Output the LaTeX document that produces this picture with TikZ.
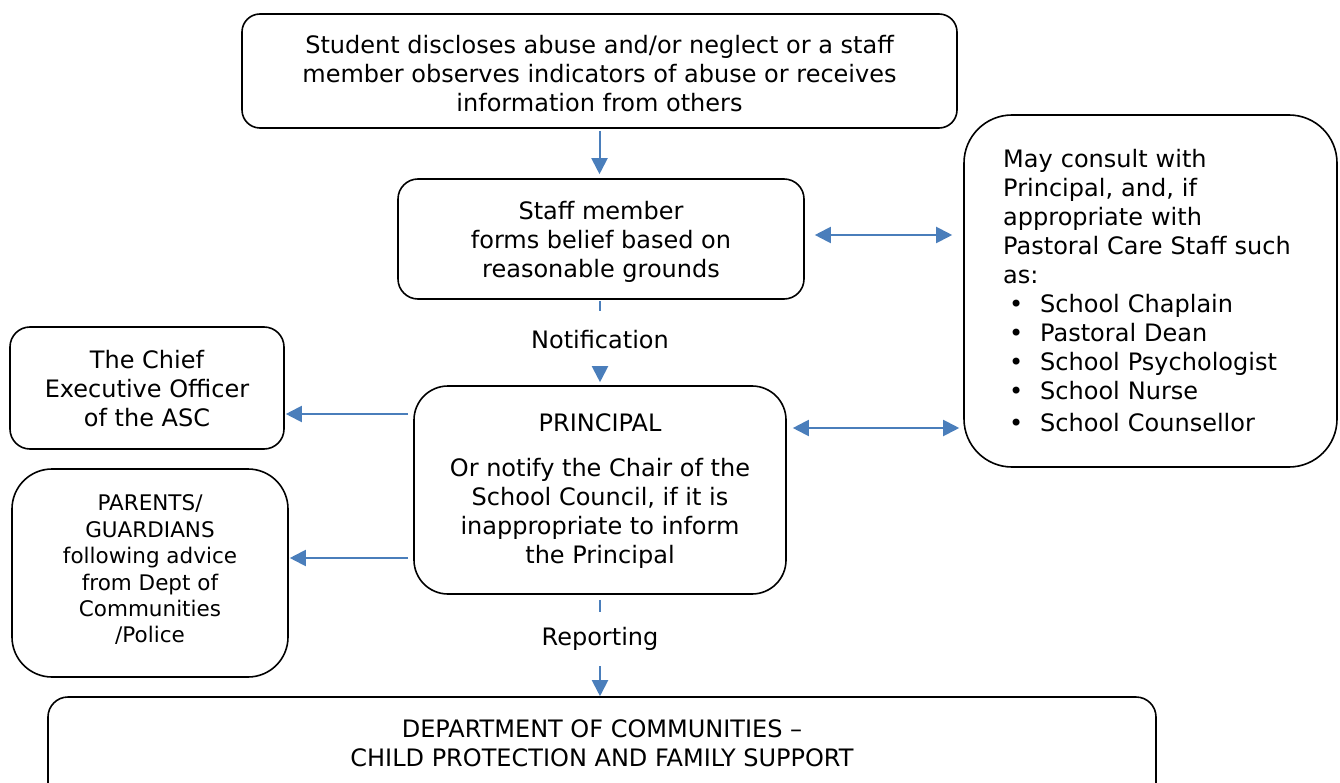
\documentclass[tikz,border=0pt]{standalone}
\usepackage{fontspec}
\setmainfont{DejaVu Sans}
\usetikzlibrary{arrows.meta,calc}
\definecolor{arrowblue}{HTML}{4A7EBB}
\tikzset{
  box/.style={draw=black, line width=1.6pt, align=center, inner sep=0pt,
    font=\fontsize{24}{29}\selectfont},
  blueline/.style={draw=arrowblue, line width=2pt},
  arr/.style={blueline, -{Triangle[length=16pt,width=16pt]}},
  dbl/.style={blueline, {Triangle[length=16pt,width=16pt]}-{Triangle[length=16pt,width=16pt]}},
  lbl/.style={inner sep=0pt, font=\fontsize{24}{29}\selectfont}
}
\begin{document}
\begin{tikzpicture}[x=1pt,y=-1pt]
\useasboundingbox (0,0) rectangle (1340,783);
\clip (0,0) rectangle (1340,783);
\fill[white] (0,0) rectangle (1340,783);

\node[box, rounded corners=18pt, minimum width=715pt, minimum height=114pt] (top) at (599.5,71) {};
\node[lbl, align=center] (toptext) at (599.5,74)
  {Student discloses abuse and/or neglect or a staff\\ member observes indicators of abuse or receives\\ information from others};

\node[box, rounded corners=20pt, minimum width=406pt, minimum height=120pt] (staff) at (601,239) {};
\node[lbl, align=center] (stafftext) at (601,242)
  {Staff member\\ forms belief based on\\ reasonable grounds};

\node[box, rounded corners=48pt, minimum width=373pt, minimum height=352pt] (right) at (1150.5,291) {};
\node[lbl, anchor=west, text width=330pt, align=left] (righttext) at (1003,291)
  {May consult with\\ Principal, and, if\\ appropriate with\\ Pastoral Care Staff such\\ as:\\
   \makebox[37pt][l]{\hspace{6pt}•}School Chaplain\\
   \makebox[37pt][l]{\hspace{6pt}•}Pastoral Dean\\
   \makebox[37pt][l]{\hspace{6pt}•}School Psychologist\\
   \makebox[37pt][l]{\hspace{6pt}•}School Nurse\\[3pt]
   \makebox[37pt][l]{\hspace{6pt}•}School Counsellor};

\node[box, rounded corners=20pt, minimum width=274pt, minimum height=122pt] (chief) at (147,388) {};
\node[lbl, align=center] (chieftext) at (147,389)
  {The Chief\\ Executive Officer\\ of the ASC};

\node[box, rounded corners=34pt, minimum width=372pt, minimum height=208pt] (principal) at (600,490) {};
\node[lbl, align=center] (principaltext) at (600,491)
  {PRINCIPAL\\[16pt] Or notify the Chair of the\\ School Council, if it is\\ inappropriate to inform\\ the Principal};

\node[box, rounded corners=40pt, minimum width=276pt, minimum height=208pt] (parents) at (150,573) {};
\node[lbl, align=center, font=\fontsize{21.5}{26.4}\selectfont] (parentstext) at (150,570)
  {PARENTS/\\ GUARDIANS\\ following advice\\ from Dept of\\ Communities\\ /Police};

\node[box, rounded corners=20pt, minimum width=1108pt, minimum height=120pt] (dept) at (602,757) {};
\node[lbl, align=center] (depttext) at (602,743) {DEPARTMENT OF COMMUNITIES –\\ CHILD PROTECTION AND FAMILY SUPPORT};

\node[lbl, minimum height=58pt] (notif) at (600,340) {Notification};
\node[lbl, minimum height=54pt] (report) at (600,639) {Reporting};

\draw[arr, shorten <=2pt, shorten >=4pt] (top.south) -- (top.south |- staff.north);
\draw[blueline, shorten <=1pt] (staff.south -| notif.north) -- (notif.north);
\draw[arr, shorten >=3pt] (notif.south) -- (notif.south |- principal.north);
\draw[blueline, shorten <=5pt] (principal.south -| report.north) -- (report.north);
\draw[arr] (report.south) -- (report.south |- dept.north);

\draw[dbl, shorten <=10pt, shorten >=11pt] ([yshift=4pt]staff.east) -- ([yshift=4pt]staff.east -| right.west);
\draw[dbl, shorten <=6pt, shorten >=4pt] ([yshift=62pt]principal.east) -- ([yshift=62pt]principal.east -| right.west);

\draw[arr, shorten <=5pt, shorten >=1pt] ([yshift=-26pt]chief.east -| principal.west) -- ([yshift=-26pt]chief.east);
\draw[arr, shorten <=5pt, shorten >=1pt] ([yshift=15pt]parents.east -| principal.west) -- ([yshift=15pt]parents.east);
\end{tikzpicture}
\end{document}
